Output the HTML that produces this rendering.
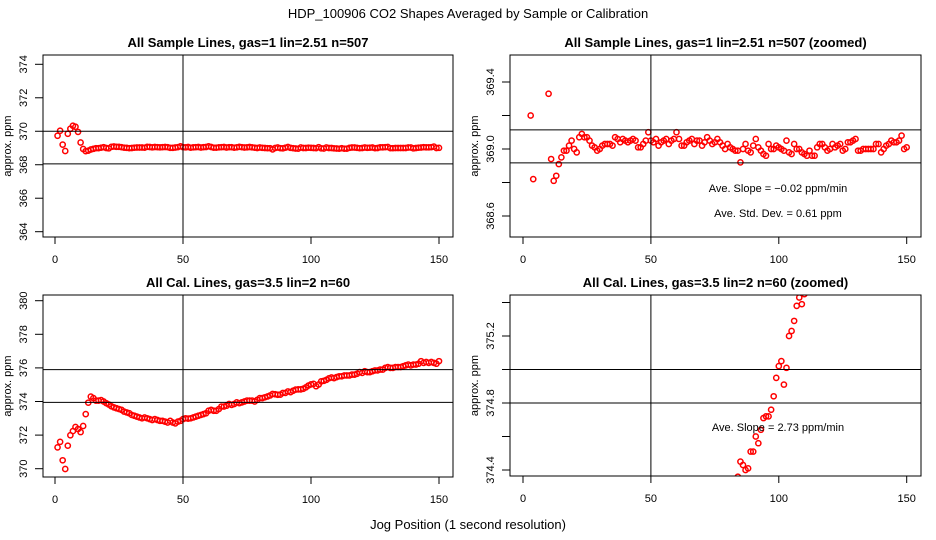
<!DOCTYPE html>
<html><head><meta charset="utf-8"><style>
html,body{margin:0;padding:0;background:#fff;overflow:hidden;width:936px;height:540px;}
svg{display:block;font-family:"Liberation Sans",Arial,sans-serif;}
</style></head><body>
<svg id="chart" width="936" height="540" viewBox="0 0 936 540">
<text x="468" y="18" text-anchor="middle" font-size="13">HDP_100906  CO2 Shapes Averaged by Sample or Calibration</text>
<text x="468" y="529" text-anchor="middle" font-size="13">Jog Position (1 second resolution)</text>
</svg>
<script>
const sampleValues=[369.73,370.03,369.2,368.82,369.85,370.15,370.33,370.27,369.96,369.33,
368.94,368.81,368.84,368.91,368.95,368.99,368.99,369.02,369.05,369.0,
368.98,369.07,369.09,369.07,369.07,369.05,369.02,369.01,368.99,369.0,
369.02,369.03,369.03,369.03,369.02,369.07,369.06,369.04,369.06,369.05,
369.04,369.05,369.06,369.05,369.01,369.01,369.03,369.05,369.1,369.05,
369.04,369.06,369.02,369.04,369.05,369.06,369.03,369.05,369.06,369.1,
369.06,369.02,369.02,369.04,369.05,369.06,369.03,369.05,369.05,369.02,
369.04,369.07,369.05,369.03,369.04,369.06,369.04,369.02,369.0,369.03,
369.01,369.0,368.99,368.99,368.92,369.0,369.03,368.99,368.98,369.02,
369.06,369.01,368.99,368.97,368.96,369.03,369.0,369.0,369.02,369.01,
369.0,368.99,369.05,368.98,368.97,369.03,369.0,369.0,368.98,368.97,
368.96,368.99,368.96,368.96,369.01,369.03,369.03,369.01,368.99,369.0,
369.03,369.01,369.02,369.03,368.99,369.0,369.04,369.04,369.05,369.06,
368.99,368.99,369.0,369.0,369.0,369.0,369.0,369.03,369.03,368.98,
369.0,369.02,369.03,369.05,369.04,369.04,369.05,369.08,369.0,369.01];
const calValues=[371.27,371.6,370.5,369.98,371.37,371.99,372.24,372.48,372.36,372.18,
372.54,373.25,373.93,374.29,374.2,374.05,374.05,374.08,374.0,373.9,
373.82,373.72,373.65,373.6,373.55,373.5,373.4,373.35,373.3,373.2,
373.15,373.1,373.05,373.0,373.05,373.0,372.95,372.9,372.95,372.9,
372.85,372.85,372.8,372.75,372.85,372.75,372.7,372.8,372.85,372.95,
373.0,372.98,373.0,373.05,373.1,373.15,373.2,373.25,373.3,373.45,
373.5,373.45,373.45,373.55,373.7,373.7,373.75,373.85,373.8,373.85,
373.95,373.9,373.95,374.0,374.05,374.05,374.05,374.0,374.1,374.2,
374.2,374.25,374.3,374.36,374.45,374.43,374.4,374.41,374.51,374.51,
374.6,374.56,374.64,374.71,374.72,374.72,374.76,374.84,374.95,375.02,
375.05,374.91,375.01,375.2,375.23,375.29,375.38,375.43,375.39,375.45,
375.5,375.5,375.55,375.55,375.55,375.6,375.6,375.65,375.75,375.7,
375.8,375.75,375.75,375.8,375.85,375.85,375.9,375.9,376.0,376.05,
376.0,376.0,376.05,376.05,376.05,376.1,376.15,376.2,376.15,376.2,
376.2,376.25,376.4,376.3,376.35,376.3,376.35,376.3,376.25,376.4];
const xTicks=[0,50,100,150];
const p1Ticks=[364,366,368,370,372,374], p1Labels=["364","366","368","370","372","374"];
const p2Ticks=[368.6,368.8,369.0,369.2,369.4], p2Labels=["368.6","","369.0","","369.4"];
const p3Ticks=[370,372,374,376,378,380], p3Labels=["370","372","374","376","378","380"];
const p4Ticks=[374.4,374.6,374.8,375.0,375.2,375.4], p4Labels=["374.4","","374.8","","375.2",""];
const svg=document.getElementById('chart');const NS='http://www.w3.org/2000/svg';
function mk(tag,attrs,parent,text){const e=document.createElementNS(NS,tag);for(const k in attrs)e.setAttribute(k,attrs[k]);if(text!==undefined)e.textContent=text;(parent||svg).appendChild(e);return e;}
function panel(o){
 const g=mk('g',{});
 
 
 const L=o.L,R=o.R,T=o.T,B=o.B;
 const sx=v=>o.x0+(v-0)*(o.x150-o.x0)/150;
 const sy=v=>o.yA+(v-o.vA)*(o.yB-o.yA)/(o.vB-o.vA);
 const cid='clip-'+o.name;
 const cp=mk('clipPath',{id:cid},g);mk('rect',{x:L,y:T,width:R-L,height:B-T},cp);
 const t=mk('text',{x:(L+R)/2,y:T-8,'text-anchor':'middle','font-size':13,'font-weight':'bold'},g,o.title);
 
 
 const pts=mk('g',{'clip-path':'url(#'+cid+')'},g);
 
 
 o.data.forEach((v,i)=>{const c=mk('circle',{cx:sx(i+1),cy:sy(v),r:2.6,fill:'none',stroke:'#f00','stroke-width':1.5},pts);
  
  });
 const lines=mk('g',{'clip-path':'url(#'+cid+')',stroke:'#000','stroke-width':1},g);
 
 
 mk('line',{x1:sx(50),x2:sx(50),y1:T,y2:B},lines);
 o.hl.forEach(h=>mk('line',{x1:L,x2:R,y1:sy(h),y2:sy(h)},lines));
 const box=mk('rect',{x:L,y:T,width:R-L,height:B-T,fill:'none',stroke:'#000','stroke-width':1},g);
 
 
 const xa=mk('g',{},g);
 
 
 xTicks.forEach(v=>{mk('line',{x1:sx(v),x2:sx(v),y1:B,y2:B+7,stroke:'#000'},xa);mk('text',{x:sx(v),y:B+26,'text-anchor':'middle','font-size':11},xa,String(v));});
 const ya=mk('g',{},g);
 
 
 o.yt.forEach((v,i)=>{const y=sy(v);if(y<T-1||y>B+1)return;mk('line',{x1:L-8,x2:L,y1:y,y2:y,stroke:'#000'},ya);
  if(o.yl[i])mk('text',{x:L-16,y:y,'text-anchor':'middle','font-size':11,transform:`rotate(-90 ${L-16} ${y})`},ya,o.yl[i]);});
 const yt=mk('text',{x:L-32,y:(T+B)/2,'text-anchor':'middle','font-size':11,transform:`rotate(-90 ${L-32} ${(T+B)/2})`},g,'approx. ppm');
 
 
 (o.notes||[]).forEach(n=>{const e=mk('text',{x:n[0],y:n[1],'text-anchor':'middle','font-size':11},g,n[2]);
  
  });
}
panel({name:'sample-panel',title:'All Sample Lines, gas=1 lin=2.51 n=507',L:43,R:453,T:55,B:237,x0:55,x150:439,yA:64.3,vA:374,yB:231.7,vB:364,data:sampleValues,hl:[370,368.05],yt:p1Ticks,yl:p1Labels});
panel({name:'sample-zoom-panel',title:'All Sample Lines, gas=1 lin=2.51 n=507 (zoomed)',L:510,R:921,T:55,B:237,x0:523,x150:906.7,yA:149,vA:369.0,yB:216,vB:368.6,data:sampleValues,hl:[369.114,368.917],yt:p2Ticks,yl:p2Labels,
 notes:[[778,192,'Ave. Slope =  \u22120.02  ppm/min'],[778,217,'Ave. Std. Dev. =  0.61  ppm']]});
panel({name:'cal-panel',title:'All Cal. Lines, gas=3.5 lin=2 n=60',L:43,R:453,T:295,B:477,x0:55,x150:439,yA:300.7,vA:380,yB:468.7,vB:370,data:calValues,hl:[375.9,373.95],yt:p3Ticks,yl:p3Labels});
panel({name:'cal-zoom-panel',title:'All Cal. Lines, gas=3.5 lin=2 n=60 (zoomed)',L:510,R:921,T:295,B:476,x0:523,x150:906.7,yA:336,vA:375.2,yB:470,vB:374.4,data:calValues,hl:[375.0,374.8],yt:p4Ticks,yl:p4Labels,
 notes:[[778,431,'Ave. Slope =  2.73  ppm/min']]});
</script>
</body></html>
